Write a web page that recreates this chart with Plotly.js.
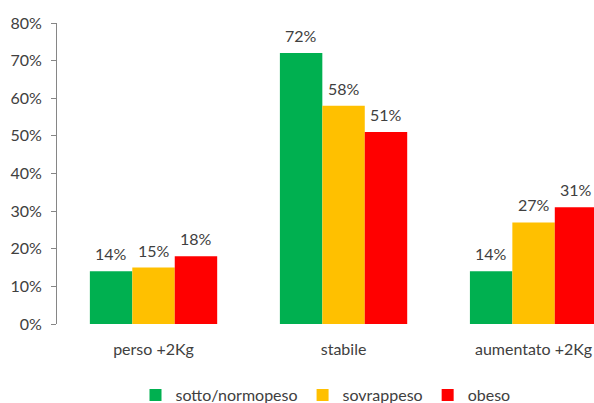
<!DOCTYPE html>
<html><head><meta charset="utf-8">
<script src="https://cdn.plot.ly/plotly-3.0.1.min.js"></script>
<style>html,body{margin:0;padding:0;background:#fff}</style>
</head><body>
<div id="chart" style="width:594px;height:403px"></div>
<script>
const categories = ["perso +2Kg", "stabile", "aumentato +2Kg"];
const seriesNames = ["sotto/normopeso", "sovrappeso", "obeso"];
const sottoNormo = [0.14, 0.72, 0.14];
const sovrappeso = [0.15, 0.58, 0.27];
const obeso = [0.18, 0.51, 0.31];
const colors = ["#00B050", "#FFC000", "#FF0000"];
const yTicks = [0, 0.1, 0.2, 0.3, 0.4, 0.5, 0.6, 0.7, 0.8];

const font = {family: "Lato, 'Open Sans', sans-serif", size: 16, color: "#404040"};
const series = [sottoNormo, sovrappeso, obeso];
const bargap = 0.33;
const barW = (1 - bargap) / series.length;

const data = series.map((vals, i) => ({
  type: "bar", x: categories, y: vals, name: seriesNames[i],
  marker: {color: colors[i]}, hoverinfo: "none"
}));

// value labels placed over each bar via the axes' own coordinates
const annotations = [];
series.forEach((vals, i) => {
  vals.forEach((v, j) => {
    annotations.push({
      x: j + (i - (series.length - 1) / 2) * barW, xref: "x",
      y: v, yref: "y", yanchor: "bottom", yshift: 6,
      text: Math.round(v * 100) + "%", showarrow: false, font: font
    });
  });
});

const layout = {
  width: 594, height: 403,
  margin: {l: 57, r: 0, t: 23, b: 79, autoexpand: false},
  barmode: "group", bargap: bargap, bargroupgap: 0,
  paper_bgcolor: "#fff", plot_bgcolor: "#fff",
  font: font,
  annotations: annotations,
  xaxis: {range: [-0.508, 2.318], showgrid: false, zeroline: false, showline: false,
          ticks: "", tickfont: font, ticklabelstandoff: 14, fixedrange: true, automargin: false},
  yaxis: {range: [0, 0.8], tickvals: yTicks, tickformat: ".0%", showgrid: false,
          zeroline: false, showline: true, linecolor: "#868686", linewidth: 1,
          ticks: "outside", ticklen: 5, tickcolor: "#868686", tickfont: font,
          ticklabelstandoff: 6, fixedrange: true, automargin: false},
  showlegend: true,
  legend: {orientation: "h", x: 0.5, xanchor: "center", y: -0.236, yanchor: "middle",
           font: font, traceorder: "normal"}
};
Plotly.newPlot("chart", data, layout, {displayModeBar: false, staticPlot: true});
</script>
</body></html>
